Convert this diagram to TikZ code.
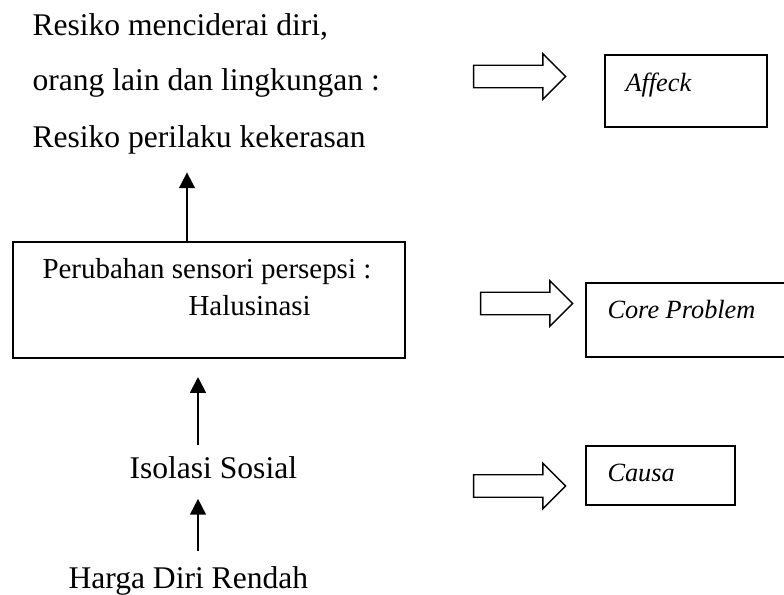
\documentclass[tikz,border=0pt]{standalone}
\usepackage{fontspec}
\setmainfont{Liberation Serif}
\usetikzlibrary{shapes,shapes.arrows,arrows.meta,calc}

\begin{document}
\begin{tikzpicture}[x=0.38pt, y=-0.38pt,
	txt/.style={inner sep=0pt, anchor=base west, font=\fontsize{12}{14}\selectfont},
	boxtxt/.style={inner sep=0pt, anchor=base west, font=\fontsize{11}{13}\selectfont},
	tag/.style={inner sep=0pt, anchor=base west, font=\fontsize{10}{12}\selectfont\itshape},
	box/.style={draw, line width=0.75pt, inner sep=0pt, outer sep=0pt, anchor=north west},
	fat/.style={draw, line width=0.55pt, single arrow, single arrow head extend=4.37pt, single arrow head indent=0pt, inner xsep=0pt, inner ysep=4pt, minimum height=35pt},
	uparr/.style={draw, line width=0.7pt, -{Triangle[length=6pt, width=6pt]}}]

	\useasboundingbox (0,0) rectangle (784,594);

	% left column
	\node[txt] (risk1) at (32,36) {Resiko menciderai diri,};
	\node[txt] (risk2) at (32,90) {orang lain dan lingkungan :};
	\node[txt] (risk3) at (32,147) {Resiko perilaku kekerasan};
	\node[box, minimum width=149pt, minimum height=44.1pt] (percept) at (13,242) {};
	\node[boxtxt] (perceptA) at (42,278) {Perubahan sensori persepsi :};
	\node[boxtxt] (perceptB) at (188,315) {Halusinasi};
	\node[txt] (isolasi) at (129,478) {Isolasi Sosial};
	\node[txt] (harga) at (68,588) {Harga Diri Rendah};

	% right column
	\node[fat] (blk1) at (514,76.5) {};
	\node[fat] (blk2) at (521,303.5) {};
	\node[fat] (blk3) at (514,486) {};
	\node[box, minimum width=61.6pt, minimum height=27.4pt] (affeck) at (605,55) {};
	\node[box, minimum width=80pt, minimum height=28.1pt] (core) at (586,283) {};
	\node[box, minimum width=56.6pt, minimum height=22.4pt] (causa) at (586,446) {};
	\node[tag] (affeckT) at ($(affeck.north west)+(20,36)$) {Affeck};
	\node[tag] (coreT) at ($(core.north west)+(21,35)$) {Core Problem};
	\node[tag] (causaT) at ($(causa.north west)+(21,35)$) {Causa};

	\coordinate (a1) at (187,0);
	\coordinate (a2) at (198,0);
	\begin{scope}[every path/.style={uparr}]
		\draw[shorten >=6.9pt] (percept.north -| a1) -- (risk3.south -| a1);
		\draw[shorten <=3.9pt, shorten >=7.2pt] (isolasi.north -| a2) -- (percept.south -| a2);
		\draw[shorten <=5.5pt, shorten >=7.6pt] (harga.north -| a2) -- (isolasi.south -| a2);
	\end{scope}

\end{tikzpicture}
\end{document}
